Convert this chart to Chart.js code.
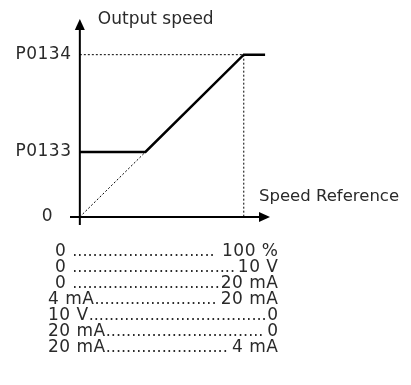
<!DOCTYPE html>
<html>
<head>
<meta charset="utf-8">
<script src="https://cdn.jsdelivr.net/npm/chart.js@4"></script>
<style>
  html, body { margin: 0; padding: 0; background: #fff; }
  canvas { display: block; }
</style>
</head>
<body>
<canvas id="chart" width="411" height="385"></canvas>
<script>
// ── DATA ──────────────────────────────────────────────
// x: speed reference in % of full scale, y: output speed in % of P0134
const refX      = [0, 40, 100, 113];
const speedY    = [40, 40, 100, 100];
const guideX    = [0, 40];            // dotted line below P0133
const guideY    = [0, 40];
const yTickVals = [100, 40];
const yTickText = ['P0134', 'P0133'];
const yTitle    = 'Output speed';
const xTitle    = 'Speed Reference';
const rangeFrom = ['0 ', '0 ', '0 ', '4 mA', '10 V', '20 mA', '20 mA'];
const rangeTo   = [' 100 %', '10 V', '20 mA', '20 mA', '0', '0', '4 mA'];
const rangeIndent = [7, 7, 7, 0, 0, 0, 0];

const FONT = '"DejaVu Sans", sans-serif';
const TEXT = '#2a2a2a';

const pts = (xs, ys) => xs.map((x, i) => ({ x, y: ys[i] }));

// ── AXES, ARROWS, LABELS ──────────────────────────────
const decor = {
  id: 'decor',
  beforeDatasetsDraw(chart) {
    const { ctx, scales: { x, y } } = chart;
    const x0 = x.getPixelForValue(0), y0 = y.getPixelForValue(0);
    const xMax = x.getPixelForValue(100), yMax = y.getPixelForValue(100);
    ctx.save();
    // dotted guides to P0134 / 100 %
    ctx.strokeStyle = '#000'; ctx.lineWidth = 1; ctx.setLineDash([2, 2]);
    ctx.beginPath();
    ctx.moveTo(x0, yMax); ctx.lineTo(xMax, yMax);
    ctx.moveTo(xMax, yMax); ctx.lineTo(xMax, y0);
    ctx.stroke();
    ctx.restore();
  },
  afterDatasetsDraw(chart) {
    const { ctx, chartArea: a, scales: { x, y } } = chart;
    const x0 = x.getPixelForValue(0), y0 = y.getPixelForValue(0);
    ctx.save();
    ctx.strokeStyle = '#000'; ctx.fillStyle = '#000'; ctx.lineWidth = 2;
    // y axis
    ctx.beginPath(); ctx.moveTo(x0, a.bottom); ctx.lineTo(x0, a.top + 8); ctx.stroke();
    ctx.beginPath(); ctx.moveTo(x0, a.top); ctx.lineTo(x0 - 5, a.top + 11); ctx.lineTo(x0 + 5, a.top + 11); ctx.closePath(); ctx.fill();
    // x axis
    ctx.beginPath(); ctx.moveTo(a.left, y0); ctx.lineTo(a.right - 8, y0); ctx.stroke();
    ctx.beginPath(); ctx.moveTo(a.right, y0); ctx.lineTo(a.right - 11, y0 - 5); ctx.lineTo(a.right - 11, y0 + 5); ctx.closePath(); ctx.fill();

    ctx.fillStyle = TEXT;
    ctx.font = `17px ${FONT}`;
    ctx.textBaseline = 'middle';
    ctx.textAlign = 'right';
    ctx.letterSpacing = '0.5px';
    yTickVals.forEach((v, i) => ctx.fillText(yTickText[i], a.left + 1.5, y.getPixelForValue(v)));
    ctx.fillText('0', a.left - 17, y0);
    ctx.textAlign = 'left';
    ctx.letterSpacing = '0px';
    ctx.fillText(yTitle, x0 + 18, a.top + 1);
    ctx.font = `16.5px ${FONT}`;
    ctx.fillText(xTitle, a.right - 11, y.getPixelForValue(12.5));

    // range table under the chart
    ctx.font = `17px ${FONT}`;
    const right = 278, top = 252, step = 16;
    rangeFrom.forEach((l, i) => {
      const r = rangeTo[i], yy = top + i * step, left = 48 + rangeIndent[i];
      ctx.letterSpacing = '0.5px';
      const lw = ctx.measureText(l).width, rw = ctx.measureText(r).width;
      ctx.textAlign = 'left';
      ctx.fillText(l, left, yy);
      ctx.textAlign = 'right';
      ctx.fillText(r, right + 0.5, yy);
      ctx.letterSpacing = '0px';
      ctx.font = `16px ${FONT}`;
      const dotW = ctx.measureText('.').width;
      const n = Math.floor((right - rw - left - lw) / dotW);
      ctx.textAlign = 'left';
      ctx.fillText('.'.repeat(Math.max(n, 0)), left + lw, yy);
      ctx.font = `17px ${FONT}`;
    });
    ctx.restore();
  }
};

new Chart(document.getElementById('chart').getContext('2d'), {
  type: 'line',
  data: {
    datasets: [
      { data: pts(refX, speedY), borderColor: '#000', borderWidth: 2.5, pointRadius: 0, tension: 0 },
      { data: pts(guideX, guideY), borderColor: '#000', borderWidth: 1, borderDash: [2, 2], pointRadius: 0, tension: 0 },
    ],
  },
  options: {
    responsive: false, animation: false,
    layout: { padding: { left: 70, right: 141, top: 19, bottom: 160 } },
    plugins: { legend: { display: false }, tooltip: { enabled: false } },
    scales: {
      x: { type: 'linear', min: -6, max: 116, display: false },
      y: { type: 'linear', min: -5, max: 122, display: false },
    },
  },
  plugins: [decor],
});
</script>
</body>
</html>
